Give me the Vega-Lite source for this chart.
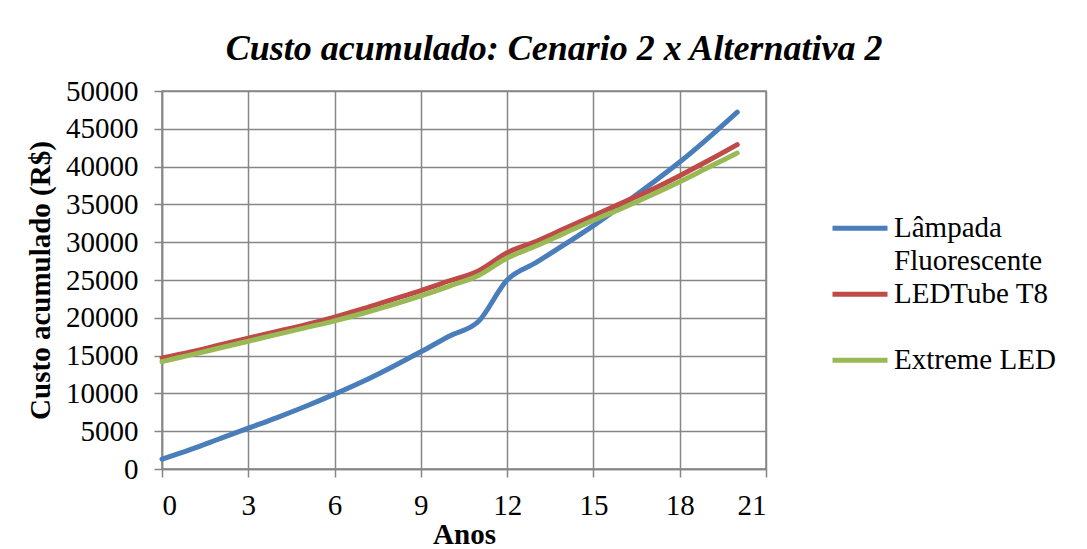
{
  "$schema": "https://vega.github.io/schema/vega-lite/v6.json",
  "autosize": {"type": "none"},
  "width": 604,
  "height": 378,
  "padding": {"left": 162, "top": 91, "right": 321, "bottom": 80},
  "background": "white",
  "title": {
    "text": "Custo acumulado: Cenario 2 x Alternativa  2",
    "font": "Liberation Serif",
    "fontSize": 36,
    "fontStyle": "italic",
    "fontWeight": "bold",
    "color": "black",
    "anchor": "middle",
    "frame": "group",
    "offset": 9,
    "dx": 90
  },
  "config": {
    "view": {"stroke": "#868686", "strokeWidth": 1.5},
    "axis": {
      "labelFont": "Liberation Serif",
      "titleFont": "Liberation Serif",
      "labelColor": "black",
      "titleColor": "black",
      "labelFontSize": 29,
      "titleFontSize": 29,
      "titleFontWeight": "bold",
      "gridColor": "#868686",
      "gridWidth": 1.5,
      "gridOpacity": 1,
      "domainColor": "#868686",
      "domainWidth": 1.5,
      "tickColor": "#868686",
      "tickWidth": 1.5,
      "tickSize": 8,
      "labelOverlap": false
    }
  },
  "data": {
    "values": [
      {"ano": 0, "s": "Lâmpada Fluorescente", "v": 1300},
      {"ano": 1, "s": "Lâmpada Fluorescente", "v": 2600},
      {"ano": 2, "s": "Lâmpada Fluorescente", "v": 4000},
      {"ano": 3, "s": "Lâmpada Fluorescente", "v": 5400},
      {"ano": 4, "s": "Lâmpada Fluorescente", "v": 6800},
      {"ano": 5, "s": "Lâmpada Fluorescente", "v": 8300},
      {"ano": 6, "s": "Lâmpada Fluorescente", "v": 9900},
      {"ano": 7, "s": "Lâmpada Fluorescente", "v": 11600},
      {"ano": 8, "s": "Lâmpada Fluorescente", "v": 13500},
      {"ano": 9, "s": "Lâmpada Fluorescente", "v": 15500},
      {"ano": 10, "s": "Lâmpada Fluorescente", "v": 17600},
      {"ano": 11, "s": "Lâmpada Fluorescente", "v": 19500},
      {"ano": 12, "s": "Lâmpada Fluorescente", "v": 25000},
      {"ano": 13, "s": "Lâmpada Fluorescente", "v": 27300},
      {"ano": 14, "s": "Lâmpada Fluorescente", "v": 29700},
      {"ano": 15, "s": "Lâmpada Fluorescente", "v": 32200},
      {"ano": 16, "s": "Lâmpada Fluorescente", "v": 34900},
      {"ano": 17, "s": "Lâmpada Fluorescente", "v": 37700},
      {"ano": 18, "s": "Lâmpada Fluorescente", "v": 40600},
      {"ano": 19, "s": "Lâmpada Fluorescente", "v": 43800},
      {"ano": 20, "s": "Lâmpada Fluorescente", "v": 47200},
      {"ano": 0, "s": "LEDTube T8", "v": 14700},
      {"ano": 1, "s": "LEDTube T8", "v": 15500},
      {"ano": 2, "s": "LEDTube T8", "v": 16400},
      {"ano": 3, "s": "LEDTube T8", "v": 17300},
      {"ano": 4, "s": "LEDTube T8", "v": 18200},
      {"ano": 5, "s": "LEDTube T8", "v": 19100},
      {"ano": 6, "s": "LEDTube T8", "v": 20100},
      {"ano": 7, "s": "LEDTube T8", "v": 21200},
      {"ano": 8, "s": "LEDTube T8", "v": 22400},
      {"ano": 9, "s": "LEDTube T8", "v": 23600},
      {"ano": 10, "s": "LEDTube T8", "v": 24900},
      {"ano": 11, "s": "LEDTube T8", "v": 26200},
      {"ano": 12, "s": "LEDTube T8", "v": 28600},
      {"ano": 13, "s": "LEDTube T8", "v": 30100},
      {"ano": 14, "s": "LEDTube T8", "v": 31800},
      {"ano": 15, "s": "LEDTube T8", "v": 33500},
      {"ano": 16, "s": "LEDTube T8", "v": 35200},
      {"ano": 17, "s": "LEDTube T8", "v": 36900},
      {"ano": 18, "s": "LEDTube T8", "v": 38800},
      {"ano": 19, "s": "LEDTube T8", "v": 40800},
      {"ano": 20, "s": "LEDTube T8", "v": 42900},
      {"ano": 0, "s": "Extreme LED", "v": 14200},
      {"ano": 1, "s": "Extreme LED", "v": 15100},
      {"ano": 2, "s": "Extreme LED", "v": 16000},
      {"ano": 3, "s": "Extreme LED", "v": 16900},
      {"ano": 4, "s": "Extreme LED", "v": 17800},
      {"ano": 5, "s": "Extreme LED", "v": 18700},
      {"ano": 6, "s": "Extreme LED", "v": 19600},
      {"ano": 7, "s": "Extreme LED", "v": 20600},
      {"ano": 8, "s": "Extreme LED", "v": 21700},
      {"ano": 9, "s": "Extreme LED", "v": 22900},
      {"ano": 10, "s": "Extreme LED", "v": 24200},
      {"ano": 11, "s": "Extreme LED", "v": 25600},
      {"ano": 12, "s": "Extreme LED", "v": 27900},
      {"ano": 13, "s": "Extreme LED", "v": 29500},
      {"ano": 14, "s": "Extreme LED", "v": 31200},
      {"ano": 15, "s": "Extreme LED", "v": 32900},
      {"ano": 16, "s": "Extreme LED", "v": 34500},
      {"ano": 17, "s": "Extreme LED", "v": 36200},
      {"ano": 18, "s": "Extreme LED", "v": 38000},
      {"ano": 19, "s": "Extreme LED", "v": 39900},
      {"ano": 20, "s": "Extreme LED", "v": 41800}
    ]
  },
  "mark": {"type": "line", "interpolate": "monotone", "strokeWidth": 5, "strokeCap": "round"},
  "encoding": {
    "x": {
      "field": "ano",
      "type": "quantitative",
      "scale": {"domain": [0, 21], "nice": false},
      "axis": {"values": [0, 3, 6, 9, 12, 15, 18, 21], "title": "Anos", "titlePadding": 0, "labelPadding": 14}
    },
    "y": {
      "field": "v",
      "type": "quantitative",
      "scale": {"domain": [0, 50000], "nice": false},
      "axis": {"values": [0, 5000, 10000, 15000, 20000, 25000, 30000, 35000, 40000, 45000, 50000], "title": "Custo acumulado (R$)", "format": "d", "labelPadding": 16, "titlePadding": 10}
    },
    "color": {
      "field": "s",
      "type": "nominal",
      "scale": {
        "domain": ["Lâmpada Fluorescente", "Fluorescente", "LEDTube T8", " ", "Extreme LED"],
        "range": ["#4A7EBB", "rgba(0,0,0,0)", "#BE4B48", "rgba(0,0,0,0)", "#98B954"]
      },
      "legend": {
        "title": null,
        "orient": "none",
        "legendX": 668,
        "legendY": 121,
        "symbolType": "stroke",
        "symbolSize": 3025,
        "symbolStrokeWidth": 5,
        "labelFont": "Liberation Serif",
        "labelFontSize": 29,
        "labelColor": "black",
        "labelLimit": 300,
        "labelOffset": 4,
        "rowPadding": 0,
        "clipHeight": 32.5,
        "labelExpr": "datum.value == 'Lâmpada Fluorescente' ? 'Lâmpada' : datum.label"
      }
    }
  }
}
